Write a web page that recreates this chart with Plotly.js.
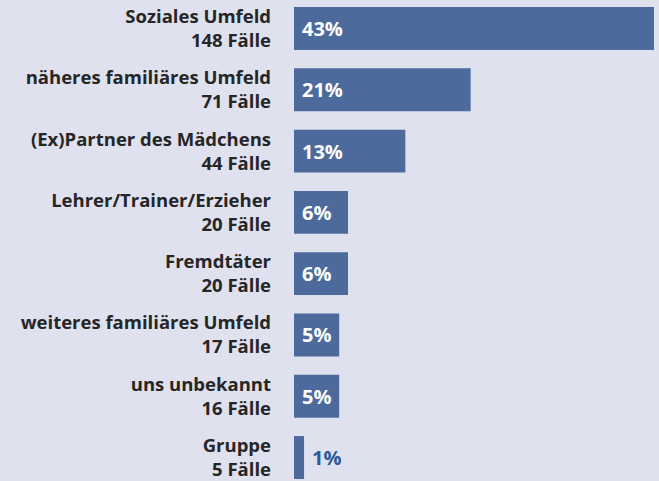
<!DOCTYPE html>
<html>
<head>
<meta charset="utf-8">
<script src="https://cdn.plot.ly/plotly-3.0.1.min.js"></script>
<style>html,body{margin:0;padding:0;background:#dfe1ee;}</style>
</head>
<body>
<div id="chart" style="width:659px;height:481px;"></div>
<script>
const categories = ["Soziales Umfeld", "näheres familiäres Umfeld", "(Ex)Partner des Mädchens", "Lehrer/Trainer/Erzieher", "Fremdtäter", "weiteres familiäres Umfeld", "uns unbekannt", "Gruppe"];
const cases = [148, 71, 44, 20, 20, 17, 16, 5];
const percentLabels = ["43%", "21%", "13%", "6%", "6%", "5%", "5%", "1%"];
// bar lengths (percent)
const barValues = [43.0, 21.1, 13.3, 6.45, 6.45, 5.4, 5.4, 1.2];

const labels = categories.map((c, i) => c + "<br>" + cases[i] + " Fälle");
const ids = categories.map((c, i) => i);

const annotations = barValues.map((v, i) => {
  const outside = v < 3;
  return {
    x: outside ? v : 0, y: i, xref: 'x', yref: 'y',
    text: percentLabels[i], showarrow: false, xanchor: 'left', yanchor: 'middle',
    xshift: 6,
    font: {family: '"Open Sans", sans-serif', size: 20, color: outside ? '#2a5a98' : '#ffffff', weight: 700}
  };
});

const trace = {
  type: 'bar', orientation: 'h',
  x: barValues, y: ids,
  marker: {color: '#4c6a9c'},
  hoverinfo: 'none',
  width: 0.7
};

const layout = {
  width: 659, height: 481,
  margin: {l: 294, r: 0, t: 0, b: 0, pad: 0},
  paper_bgcolor: '#dfe1ee', plot_bgcolor: '#dfe1ee',
  showlegend: false,
  xaxis: {range: [0, 43.6], visible: false, fixedrange: true},
  yaxis: {
    range: [7.383, -0.465],
    tickmode: 'array', tickvals: ids, ticktext: labels,
    showgrid: false, zeroline: false, showline: false, ticks: '',
    ticklabelstandoff: 22,
    ticklabeloverflow: 'allow',
    tickfont: {family: '"Open Sans", sans-serif', size: 18.5, color: '#262626', weight: 700}
  },
  annotations: annotations
};

Plotly.newPlot('chart', [trace], layout, {staticPlot: true, displayModeBar: false});
</script>
</body>
</html>
